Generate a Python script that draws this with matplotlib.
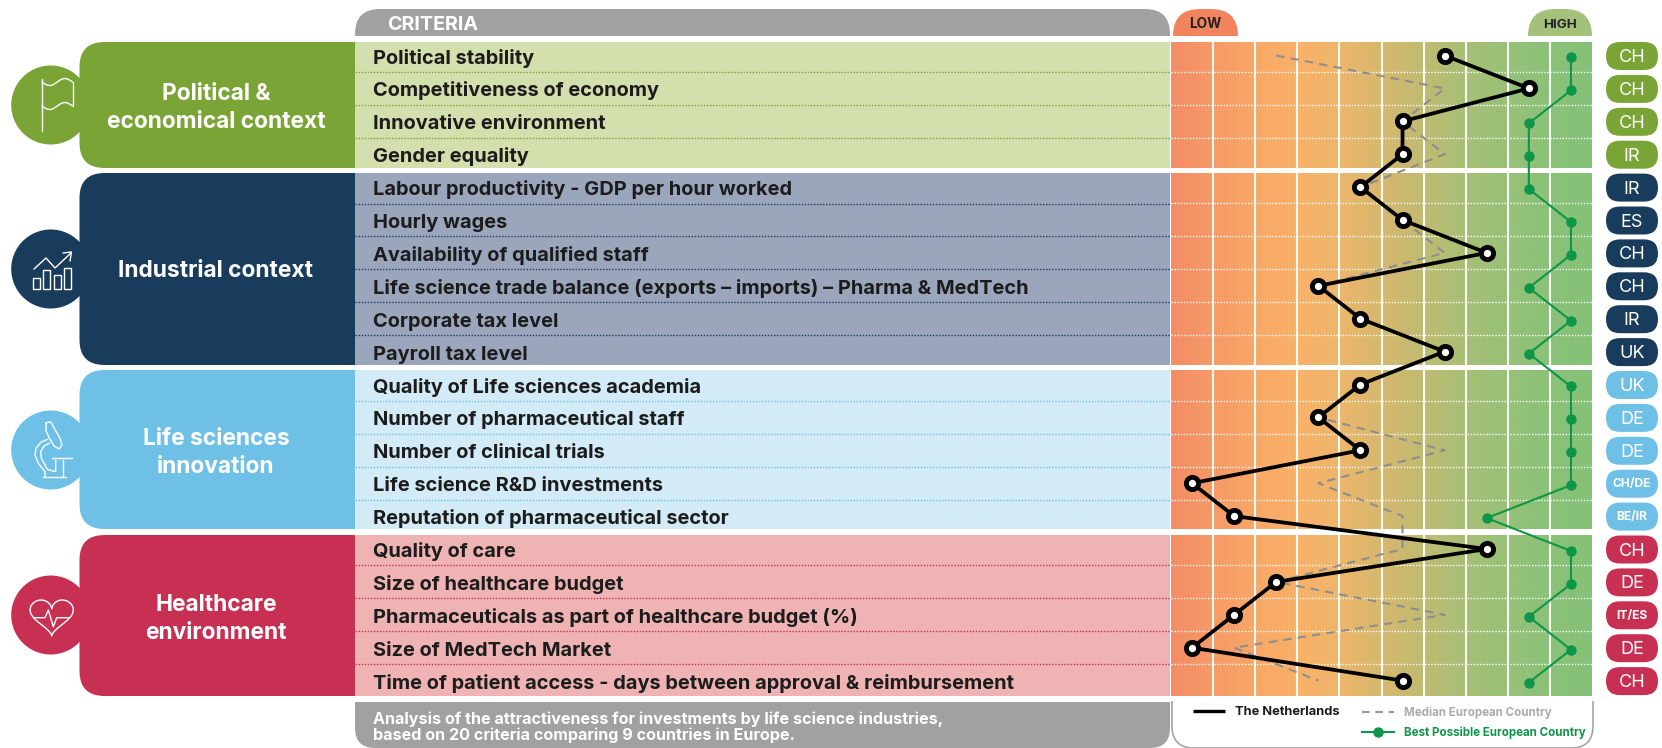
import numpy as np
import matplotlib
matplotlib.use("Agg")
import matplotlib.pyplot as plt
from matplotlib.colors import LinearSegmentedColormap
from matplotlib.patches import Circle, FancyBboxPatch, PathPatch, Rectangle
from matplotlib.path import Path

plt.rcParams['font.family'] = ['Inter', 'DejaVu Sans']

# === DATA ===
criteria = [
    "Political stability", "Competitiveness of economy", "Innovative environment", "Gender equality",
    "Labour productivity - GDP per hour worked", "Hourly wages", "Availability of qualified staff",
    "Life science trade balance (exports – imports) – Pharma & MedTech", "Corporate tax level", "Payroll tax level",
    "Quality of Life sciences academia", "Number of pharmaceutical staff", "Number of clinical trials",
    "Life science R&D investments", "Reputation of pharmaceutical sector",
    "Quality of care", "Size of healthcare budget", "Pharmaceuticals as part of healthcare budget (%)",
    "Size of MedTech Market", "Time of patient access - days between approval & reimbursement",
]
netherlands = [7, 9, 6, 6, 5, 6, 8, 4, 5, 7, 5, 4, 5, 1, 2, 8, 3, 2, 1, 6]
median_eu = [3, 7, 6, 7, 5, 6, 7, 4, 5, 7, 5, 4, 7, 4, 6, 6, 3, 7, 2, 4]
best_eu = [10, 10, 9, 9, 9, 10, 10, 9, 10, 9, 10, 10, 10, 10, 8, 10, 10, 9, 10, 9]
best_country = ["CH", "CH", "CH", "IR", "IR", "ES", "CH", "CH", "IR", "UK",
                "UK", "DE", "DE", "CH/DE", "BE/IR", "CH", "DE", "IT/ES", "DE", "CH"]
group_names = ["Political &\neconomical context", "Industrial context",
               "Life sciences\ninnovation", "Healthcare\nenvironment"]
group_sizes = [4, 6, 5, 5]

# === STYLE ===
W, H = 1662, 748
DARK = ["#7AA436", "#193B5C", "#6EC0E6", "#C73053"]
LIGHT = ["#D3E0AE", "#9BA6BD", "#D3EBF6", "#EFB3B3"]
GROUP_TOP = [42, 173, 370, 535]
GROUP_BOT = [168, 365, 529, 696]
CIRCLE_Y = [105, 269, 450, 615]
LABEL_Y = [108, 271, 453, 619]
GRAY = "#A0A1A0"
GREEN = "#0E9648"
ROW0, ROW_H = 55.5, 32.9
CX0, CX1 = 1171, 1592
GRAD = ["#F48D66", "#F69A66", "#F8A867", "#F9B168", "#EDB66B", "#D6B86E", "#C0BB72",
        "#A8BF76", "#97C178", "#8AC178", "#86C178"]


def row_y(i):
    return ROW0 + ROW_H * i


def tab(ax, x0, x1, y0, y1, rl, rr, top=True, **kw):
    # box with rounded corners only on top (or only on the bottom)
    ya, yb = (y0, y1) if top else (y1, y0)
    s = 1 if top else -1
    verts = [(x0, yb), (x0, ya + s * rl), (x0, ya), (x0 + rl, ya), (x1 - rr, ya),
             (x1, ya), (x1, ya + s * rr), (x1, yb), (x0, yb)]
    codes = [Path.MOVETO, Path.LINETO, Path.CURVE3, Path.CURVE3, Path.LINETO,
             Path.CURVE3, Path.CURVE3, Path.LINETO, Path.CLOSEPOLY]
    ax.add_patch(PathPatch(Path(verts, codes), **kw))


fig = plt.figure(figsize=(W / 100, H / 100), dpi=100)
bg = fig.add_axes([0, 0, 1, 1])
bg.set_xlim(0, W)
bg.set_ylim(H, 0)
bg.axis("off")

# === GROUP PANELS ===
for k in range(4):
    top, bot = GROUP_TOP[k], GROUP_BOT[k]
    bg.add_patch(Circle((50.7, CIRCLE_Y[k]), 39.5, color=DARK[k], lw=0, zorder=1))
    bg.add_patch(FancyBboxPatch((79.5, top), 320, bot - top, boxstyle="round,pad=0,rounding_size=25",
                                fc=DARK[k], ec="none", zorder=2))
    bg.add_patch(Rectangle((355, top), 815, bot - top, fc=LIGHT[k], ec="none", zorder=3))
    lines = group_names[k].split("\n")
    for j, t in enumerate(lines):
        yy = LABEL_Y[k] + (j - (len(lines) - 1) / 2) * 27.8
        bg.text(216, yy + 6, t, color="white", ha="center", va="baseline",
                fontsize=16.4, fontweight="bold", zorder=5)

start = 0
for k, n in enumerate(group_sizes):
    for i in range(start, start + n):
        y = row_y(i)
        bg.text(373, y + 8, criteria[i], color="#1C1C1C", fontsize=14.4, fontweight="bold",
                va="baseline", zorder=5)
        if i < start + n - 1:
            bg.plot([355, 1170], [y + 16.4, y + 16.4], color=DARK[k], lw=1, ls=(0, (1, 1.2)), zorder=4)
        # country badge
        bg.add_patch(FancyBboxPatch((1606, y - 13.5), 52, 28, boxstyle="round,pad=0,rounding_size=14",
                                    fc=DARK[k], ec="none", zorder=3))
        small = len(best_country[i]) > 2
        bg.text(1632, y + (4 if small else 6.5), best_country[i], color="white", ha="center", va="baseline",
                fontsize=8.7 if small else 13, fontweight="bold" if small else "normal", zorder=5)
    start += n

# === HEADER AND FOOTER TABS ===
tab(bg, 355, 1170, 9, 36, 25, 25, fc=GRAY, ec="none")
bg.text(387, 29.5, "CRITERIA", color="white", fontsize=14.2, fontweight="bold", va="baseline")
tab(bg, 1173, 1238, 9, 36, 27, 27, fc="#F2835F", ec="none")
tab(bg, 1528, 1592, 9, 36, 27, 27, fc="#A3C17A", ec="none")
bg.text(1205.5, 28, "LOW", color="#222222", fontsize=9.8, fontweight="bold", ha="center", va="baseline")
bg.text(1560, 28, "HIGH", color="#222222", fontsize=9.6, fontweight="bold", ha="center", va="baseline")

tab(bg, 355, 1170, 702, 748, 20, 20, top=False, fc=GRAY, ec="none")
bg.text(373, 724, "Analysis of the attractiveness for investments by life science industries,",
        color="white", fontsize=11.6, fontweight="bold", va="baseline")
bg.text(373, 740, "based on 20 criteria comparing 9 countries in Europe.",
        color="white", fontsize=11.6, fontweight="bold", va="baseline")

# legend box
verts = [(1172, 701), (1172, 726), (1172, 748), (1194, 748), (1571, 748), (1593, 748), (1593, 726), (1593, 701)]
codes = [Path.MOVETO, Path.LINETO, Path.CURVE3, Path.CURVE3, Path.LINETO, Path.CURVE3, Path.CURVE3, Path.LINETO]
bg.add_patch(PathPatch(Path(verts, codes), fc="none", ec="#A5A5A5", lw=1.2, clip_on=False))
bg.plot([1193, 1225], [711, 711], color="black", lw=2.4, solid_capstyle="butt")
bg.text(1235, 715, "The Netherlands", color="#1C1C1C", fontsize=9.3, fontweight="bold", va="baseline")
bg.plot([1362, 1394], [712, 712], color="#9C9C9C", lw=1.6, ls=(0, (3.4, 2.6)))
bg.text(1404, 716, "Median European Country", color="#ABABAB", fontsize=8.3, fontweight="bold", va="baseline")
bg.plot([1362, 1394], [732, 732], color=GREEN, lw=1.5)
bg.plot([1378], [732], "o", color=GREEN, ms=6.5)
bg.text(1404, 736, "Best Possible European Country", color=GREEN, fontsize=8.3, fontweight="bold", va="baseline")

# === ICONS ===
ic = dict(color="white", lw=1, zorder=6, solid_capstyle="round")
# flag
bg.plot([42, 42], [79, 131], **ic)
t = np.linspace(0, 1, 30)
wave = 3.5 * np.sin(2 * np.pi * t)
bg.plot(42 + 30.5 * t, 82 + wave, **ic)
bg.plot(42 + 30.5 * t, 106 + wave, **ic)
bg.plot([72.5, 72.5], [82, 106], **ic)
# bar chart with arrow
bg.plot([34, 46, 55, 71], [269, 258, 268, 253], **ic)
bg.plot([63, 71.5, 70], [253, 252, 261], **ic)
for x0, ytop in zip([33, 43, 53.5, 64], [278, 270, 275, 268]):
    bg.add_patch(Rectangle((x0, ytop), 7, 288.5 - ytop, fc="none", ec="white", lw=1, zorder=6))
# microscope (traced on a 240 px crop of the icon)
scope = [
    [(108, 38), (122, 36), (133, 55), (150, 85), (156, 105), (147, 117), (132, 108), (118, 85), (108, 62), (108, 38)],
    [(112, 88), (92, 97), (78, 115), (75, 135), (85, 160), (105, 185), (105, 202)],
    [(118, 100), (102, 108), (92, 125), (94, 145), (105, 165), (112, 178), (137, 185), (137, 150)],
    [(125, 143), (185, 143)],
    [(160, 150), (160, 202)],
    [(98, 202), (168, 202)],
]
for part in scope:
    xs, ys = zip(*part)
    bg.plot(10 + np.array(xs) / 3, 410 + np.array(ys) / 3, **ic)
# heart with pulse
a = np.linspace(0, 2 * np.pi, 100)
hx = 16 * np.sin(a) ** 3
hy = 13 * np.cos(a) - 5 * np.cos(2 * a) - 2 * np.cos(3 * a) - np.cos(4 * a)
bg.plot(51.7 + 1.35 * hx, 614.8 - 1.24 * hy, **ic)
bg.plot([34, 45, 48.3, 53.3, 56.7, 69.3], [617.7, 617.7, 610, 626.7, 617.7, 617.7], **ic)

# === SCORE AXES ===
ax = fig.add_axes([CX0 / W, 1 - 696 / H, (CX1 - CX0) / W, (696 - 42) / H])
y_top = (42 - ROW0) / ROW_H
y_bot = (696 - ROW0) / ROW_H
cmap = LinearSegmentedColormap.from_list("lowhigh", GRAD)
ax.imshow(np.linspace(0, 1, 256).reshape(1, -1), cmap=cmap, aspect="auto",
          extent=[0.5, 10.5, y_bot, y_top], zorder=0)
for v in np.arange(1.5, 10.5, 1):
    ax.axvline(v, color="#FBFAF5", lw=1.5, zorder=1)
edge = 0
for k, n in enumerate(group_sizes):
    edge += n
    if k < 3:
        top = (GROUP_BOT[k] - ROW0) / ROW_H
        bot = (GROUP_TOP[k + 1] - ROW0) / ROW_H
        ax.axhspan(top, bot, color="white", lw=0, zorder=2)
    for b in range(edge - n, edge - 1):
        ax.axhline(b + 16.4 / ROW_H, color="white", lw=1, ls=(0, (1, 1.2)), zorder=2)

rows = np.arange(len(criteria))
ax.plot(median_eu, rows, color="#8E8E8E", lw=1.5, ls=(0, (4, 3)), zorder=3)
ax.plot(best_eu, rows + 0.06, color=GREEN, lw=1.5, marker="o", ms=6.5, zorder=4)
ax.plot(netherlands, rows, color="black", lw=2.7, marker="o", ms=8.8, mfc="white", mec="black", mew=3.5, zorder=5)
ax.set_xlim(0.5, 10.5)
ax.set_ylim(y_bot, y_top)
ax.axis("off")

fig.savefig("out.png", dpi=100)
